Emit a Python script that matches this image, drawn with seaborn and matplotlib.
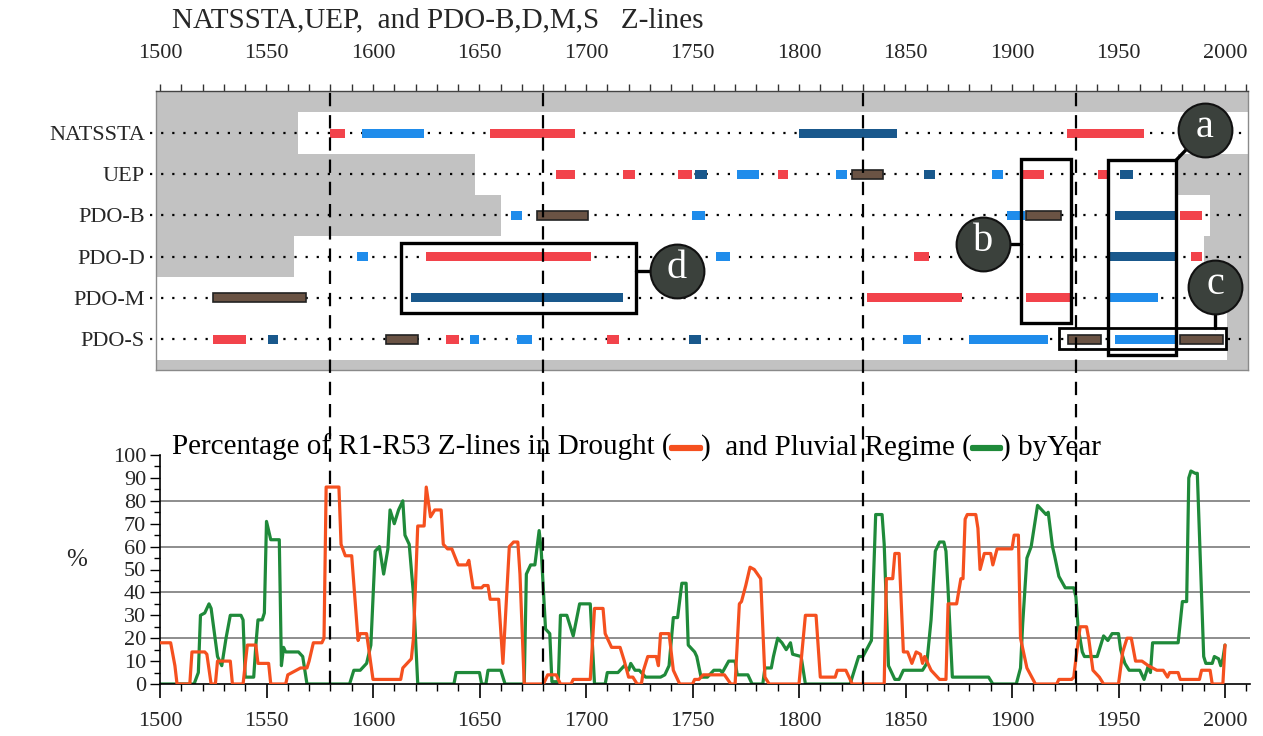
import matplotlib
matplotlib.use('Agg')
import matplotlib.pyplot as plt
import matplotlib.patheffects as pe
import seaborn as sns
from matplotlib.patches import Rectangle
from matplotlib.ticker import MultipleLocator

# ---- top panel data: (start year, end year, kind) per row ----
row_names = ['NATSSTA', 'UEP', 'PDO-B', 'PDO-D', 'PDO-M', 'PDO-S']
white_start = [1565, 1648, 1660, 1563, 1497, 1497]
white_end = [2012, 1978, 1993, 1990, 2001, 2001]

natssta = [(1580, 1587, 'R'), (1595, 1624, 'LB'), (1655, 1695, 'R'),
           (1800, 1846, 'DB'), (1926, 1962, 'R')]
uep = [(1686, 1695, 'R'), (1717.5, 1723, 'R'), (1743, 1750, 'R'), (1751, 1757, 'DB'),
       (1771, 1781, 'LB'), (1790, 1795, 'R'), (1817.5, 1822.5, 'LB'), (1825, 1839.5, 'BR'),
       (1858.5, 1864, 'DB'), (1890.5, 1896, 'LB'), (1905, 1915, 'R'), (1940.5, 1945, 'R'),
       (1950.5, 1957, 'DB')]
pdo_b = [(1665, 1670, 'LB'), (1677, 1701, 'BR'), (1750, 1756, 'LB'), (1897.5, 1906, 'LB'),
         (1906.5, 1923, 'BR'), (1948.5, 1977, 'DB'), (1979, 1989, 'R')]
pdo_d = [(1592.5, 1597.5, 'LB'), (1625, 1702.5, 'R'), (1761, 1767.5, 'LB'),
         (1854, 1861, 'R'), (1946, 1976.5, 'DB'), (1984, 1989, 'R')]
pdo_m = [(1525, 1568.5, 'BR'), (1618, 1717.5, 'DB'), (1832, 1876.5, 'R'),
         (1906.5, 1928.5, 'R'), (1946, 1968.5, 'LB')]
pdo_s = [(1525, 1540.5, 'R'), (1550.5, 1555.5, 'DB'), (1606, 1621, 'BR'), (1634.5, 1640.5, 'R'),
         (1645.5, 1650, 'LB'), (1667.5, 1674.5, 'LB'), (1710, 1715.5, 'R'), (1748.5, 1754, 'DB'),
         (1849, 1857.5, 'LB'), (1880, 1917, 'LB'), (1926.5, 1942, 'BR'), (1948.5, 1976.5, 'LB'),
         (1979, 1999, 'BR')]
rows = [natssta, uep, pdo_b, pdo_d, pdo_m, pdo_s]

dash_years = [1580, 1680, 1830, 1930]

# ---- bottom panel data ----
drought_years = [1500, 1505, 1507, 1508, 1514, 1515, 1521, 1522, 1524, 1526, 1527, 1533, 1534, 1539,
                 1541, 1545, 1546, 1551, 1552, 1559, 1560, 1564, 1566, 1569, 1570, 1572, 1576, 1577,
                 1578, 1584, 1585, 1587, 1590, 1593, 1594, 1597, 1600, 1613, 1614, 1616, 1618, 1619,
                 1621, 1624, 1625, 1627, 1629, 1632, 1633, 1635, 1637, 1640, 1644, 1645, 1647, 1651,
                 1652, 1654, 1655, 1659, 1661, 1664, 1666, 1668, 1669, 1671, 1680, 1682, 1686, 1688,
                 1693, 1694, 1702, 1704, 1708, 1709, 1712, 1716, 1718, 1720, 1722, 1724, 1726, 1727,
                 1729, 1733, 1734, 1735, 1739, 1741, 1744, 1750, 1751, 1753, 1755, 1765, 1768, 1770,
                 1772, 1773, 1775, 1777, 1779, 1782, 1784, 1786, 1800, 1803, 1808, 1810, 1817, 1818,
                 1822, 1825, 1840, 1841, 1844, 1845, 1847, 1849, 1851, 1853, 1855, 1857, 1858, 1859,
                 1862, 1866, 1869, 1870, 1874, 1876, 1877, 1878, 1879, 1883, 1884, 1885, 1887, 1890,
                 1891, 1893, 1900, 1901, 1903, 1904, 1907, 1911, 1921, 1922, 1928, 1929, 1930, 1932,
                 1935, 1936, 1938, 1941, 1943, 1950, 1952, 1954, 1956, 1958, 1961, 1964, 1968, 1971,
                 1973, 1974, 1978, 1979, 1988, 1989, 1993, 1994, 1999, 2000]
drought_pct = [18, 18, 8, 0, 0, 14, 14, 13, 0, 0, 10, 10, 0, 0,
               17, 17, 9, 9, 0, 0, 4, 6, 7, 7, 10, 18, 18, 20,
               86, 86, 61, 56, 56, 19, 22, 22, 2, 2, 7, 9, 11, 20,
               69, 69, 86, 73, 76, 76, 61, 59, 59, 52, 52, 54, 42, 42,
               43, 43, 37, 37, 9, 60, 62, 62, 48, 0, 0, 4, 4, 0,
               0, 2, 2, 33, 33, 22, 16, 16, 10, 3, 3, 0, 0, 6,
               12, 12, 8, 22, 22, 6, 0, 0, 2, 2, 4, 4, 0, 0,
               35, 36, 43, 51, 50, 46, 3, 0, 0, 30, 30, 3, 3, 6,
               6, 0, 0, 46, 46, 57, 57, 14, 14, 9, 14, 13, 9, 12,
               6, 2, 2, 35, 35, 46, 46, 72, 74, 74, 68, 50, 57, 57,
               52, 59, 59, 65, 65, 20, 7, 0, 0, 2, 2, 3, 11, 25,
               25, 20, 6, 3, 0, 0, 14, 20, 20, 10, 10, 8, 6, 6,
               3, 5, 5, 2, 2, 6, 6, 0, 0, 17]

pluvial_years = [1500, 1516, 1518, 1519, 1521, 1523, 1524, 1527, 1529, 1531, 1533, 1538, 1539, 1540,
                 1544, 1545, 1546, 1548, 1549, 1550, 1552, 1556, 1557, 1558, 1559, 1565, 1567, 1569,
                 1589, 1591, 1594, 1597, 1599, 1601, 1603, 1605, 1607, 1608, 1610, 1612, 1614, 1615,
                 1617, 1619, 1621, 1638, 1639, 1650, 1651, 1653, 1654, 1660, 1662, 1671, 1672, 1674,
                 1676, 1678, 1679, 1681, 1683, 1684, 1687, 1688, 1691, 1694, 1697, 1702, 1704, 1709,
                 1710, 1715, 1718, 1720, 1721, 1723, 1725, 1728, 1735, 1737, 1739, 1741, 1743, 1745,
                 1747, 1748, 1751, 1752, 1754, 1757, 1760, 1763, 1764, 1767, 1770, 1771, 1776, 1778,
                 1783, 1784, 1787, 1788, 1790, 1792, 1794, 1796, 1797, 1801, 1803, 1824, 1826, 1828,
                 1830, 1834, 1836, 1839, 1840, 1842, 1843, 1845, 1847, 1849, 1858, 1860, 1862, 1864,
                 1866, 1868, 1869, 1870, 1872, 1889, 1891, 1902, 1904, 1905, 1907, 1909, 1912, 1914,
                 1916, 1917, 1919, 1920, 1922, 1925, 1929, 1930, 1931, 1933, 1934, 1940, 1943, 1945,
                 1947, 1950, 1951, 1953, 1955, 1960, 1962, 1964, 1965, 1966, 1978, 1980, 1982, 1983,
                 1984, 1986, 1987, 1990, 1991, 1994, 1995, 1997, 1998, 1999, 2000]
pluvial_pct = [0, 0, 5, 30, 31, 35, 33, 12, 8, 20, 30, 30, 28, 3,
               3, 17, 28, 28, 31, 71, 63, 63, 8, 16, 14, 14, 12, 0,
               0, 6, 6, 9, 17, 58, 60, 48, 59, 76, 70, 76, 80, 65,
               61, 39, 0, 0, 5, 5, 0, 0, 6, 6, 0, 0, 48, 52,
               52, 67, 58, 24, 22, 1, 1, 30, 30, 21, 35, 35, 0, 0,
               5, 5, 8, 6, 9, 6, 6, 3, 3, 4, 8, 29, 29, 44,
               44, 17, 14, 12, 3, 3, 6, 6, 5, 10, 10, 4, 4, 0,
               0, 7, 7, 12, 20, 18, 15, 18, 13, 12, 0, 0, 6, 12,
               12, 19, 74, 74, 61, 8, 6, 2, 2, 6, 6, 9, 28, 58,
               62, 62, 58, 41, 3, 3, 0, 0, 7, 26, 55, 60, 78, 76,
               74, 75, 60, 56, 47, 42, 42, 38, 25, 14, 12, 12, 21, 19,
               22, 22, 15, 9, 6, 6, 2, 8, 5, 18, 18, 36, 36, 90,
               93, 92, 92, 12, 9, 9, 12, 11, 8, 11, 17]

# ---- style ----
sns.set_theme(style='white')
plt.rcParams['font.family'] = ['Liberation Serif', 'DejaVu Serif']
plt.rcParams['axes.unicode_minus'] = False

colors = {'R': '#f2434b', 'LB': '#1f8ceb', 'DB': '#19588c', 'BR': '#6a5344'}
edges = {'R': '#f2434b', 'LB': '#1f8ceb', 'DB': '#19588c', 'BR': '#222222'}
orange = '#f5501f'
green = '#1f8a3a'

W, H = 1263, 736
PX_YR = 2.13


def yr(px):
    return 1500 + (px - 160) / PX_YR


def fbox(x0, y0, x1, y1):
    return [x0 / W, 1 - y1 / H, (x1 - x0) / W, (y1 - y0) / H]


fig = plt.figure(figsize=(W / 100, H / 100), dpi=100)

# ---- top panel ----
ax1 = fig.add_axes(fbox(156, 91, 1248, 370))
ax1.set_facecolor('#c2c2c2')
ax1.set_xlim(yr(156), yr(1248))
ax1.set_ylim(5.75, -1.02)
nrow = len(row_names)
ax1.barh(range(nrow), [e - s for s, e in zip(white_start, white_end)], left=white_start,
         height=1.0, color='white', linewidth=0, zorder=1)
ax1.hlines(range(nrow), yr(150), yr(1248), colors='black', linestyles=(0, (1, 4)),
           lw=1.6, zorder=2, clip_on=False)
for i, segs in enumerate(rows):
    for s, e, k in segs:
        ax1.barh(i, e - s, left=s, height=0.22, color=colors[k], edgecolor=edges[k],
                 linewidth=1.2 if k == 'BR' else 0, zorder=3)

ax1.xaxis.tick_top()
ax1.xaxis.set_major_locator(MultipleLocator(50))
ax1.xaxis.set_minor_locator(MultipleLocator(10))
ax1.tick_params(axis='x', which='both', direction='out', length=5, width=1, color='#333',
                labelsize=16, pad=15)
ax1.set_yticks(range(nrow))
ax1.set_yticklabels(row_names, fontsize=16)
ax1.tick_params(axis='y', direction='out', length=5, width=1.2, color='black', pad=3)
for sp in ax1.spines.values():
    sp.set_color('#8a8a8a')
    sp.set_linewidth(1)
ax1.spines['top'].set_color('#444')

# annotation boxes
box_kw = dict(fill=False, edgecolor='black', linewidth=2.4, zorder=5)
ax1.add_patch(Rectangle((1613, 2.66), 110.6, 1.70, **box_kw))        # d
ax1.add_patch(Rectangle((1904, 0.63), 23.6, 3.98, **box_kw))         # b
ax1.add_patch(Rectangle((1945, 0.66), 32, 4.73, **box_kw))           # a
ax1.add_patch(Rectangle((1922, 4.73), 78.5, 0.51, fill=False, edgecolor='black',
                        linewidth=2, zorder=5))                       # c

labels_xy = {'d': (yr(677), 3.35), 'b': (yr(983), 2.69), 'a': (yr(1205), -0.07),
             'c': (yr(1215), 3.74)}
line_kw = dict(color='black', lw=2.4, zorder=6, clip_on=False)
ax1.plot([1723.6, labels_xy['d'][0]], [3.35, 3.35], **line_kw)
ax1.plot([labels_xy['b'][0], 1904], [2.69, 2.69], **line_kw)
ax1.plot([1977, labels_xy['a'][0]], [0.66, labels_xy['a'][1]], **line_kw)
ax1.plot([labels_xy['c'][0]] * 2, [3.74, 4.73], **line_kw)
for lab, (x, y) in labels_xy.items():
    ax1.scatter([x], [y], s=1500, color='#3b413c', edgecolors='#111111', linewidths=1.5,
                zorder=7, clip_on=False)
    ax1.text(x, y - 0.06, lab, ha='center', va='center', color='white', fontsize=29,
             zorder=8, clip_on=False)

fig.text(172 / W, 1 - 20 / H, 'NATSSTA,UEP,  and PDO-B,D,M,S   Z-lines', fontsize=21,
         ha='left', va='center')

# ---- bottom panel ----
ax2 = fig.add_axes(fbox(160, 455, 1250, 684))
ax2.set_facecolor('none')
x_right = yr(1250)
ax2.set_xlim(1500, x_right)
ax2.set_ylim(0, 100)
ax2.hlines([20, 40, 60, 80], 1500, x_right, colors='#7a7a7a', lw=1.2, zorder=1)
sns.lineplot(x=drought_years, y=drought_pct, ax=ax2, color=orange, lw=2.3, zorder=3)
sns.lineplot(x=pluvial_years, y=pluvial_pct, ax=ax2, color=green, lw=2.3, zorder=2)
ax2.xaxis.set_major_locator(MultipleLocator(50))
ax2.xaxis.set_minor_locator(MultipleLocator(10))
ax2.yaxis.set_major_locator(MultipleLocator(10))
ax2.yaxis.set_minor_locator(MultipleLocator(5))
ax2.tick_params(axis='x', which='major', direction='out', length=10, width=1.2, color='black',
                labelsize=16, pad=10, bottom=True)
ax2.tick_params(axis='x', which='minor', direction='out', length=5, width=1, color='black',
                bottom=True)
ax2.tick_params(axis='y', which='major', direction='out', length=7, width=1, color='black',
                labelsize=16, pad=3, left=True)
ax2.tick_params(axis='y', which='minor', direction='out', length=4, width=1, color='black',
                left=True)
for sp in ['top', 'right']:
    ax2.spines[sp].set_visible(False)
for sp in ['left', 'bottom']:
    ax2.spines[sp].set_color('black')
    ax2.spines[sp].set_linewidth(1.2)
ax2.set_xlabel('')
ax2.set_ylabel('')
fig.text(77 / W, 1 - 560 / H, '%', fontsize=18, ha='center', va='center')

# bottom title pieces
pieces = [('Percentage of R1-R53 Z-lines in Drought (', 'black'), ('\u2014', orange),
          (')  and Pluvial Regime (', 'black'), ('\u2014', green), (') byYear', 'black')]
prev = fig.text(172 / W, 1 - 447 / H, pieces[0][0], fontsize=21, ha='left', va='center',
                color=pieces[0][1])
for txt, col in pieces[1:]:
    kw = {}
    if col != 'black':
        kw['path_effects'] = [pe.withStroke(linewidth=3, foreground=col)]
    prev = fig.add_artist(plt.Annotation(txt, xy=(1, 0), xycoords=prev, va='bottom', ha='left',
                                         fontsize=21, color=col, **kw))

# ---- dashed guide lines across both panels ----
ov = fig.add_axes(fbox(160, 92, 1250, 684))
ov.set_xlim(1500, x_right)
ov.set_ylim(0, 1)
ov.axis('off')
ov.patch.set_alpha(0)
ov.vlines(dash_years, 0, 1, colors='black', linestyles=(0, (6, 4)), lw=1.6)

fig.savefig('out.png', dpi=100)
